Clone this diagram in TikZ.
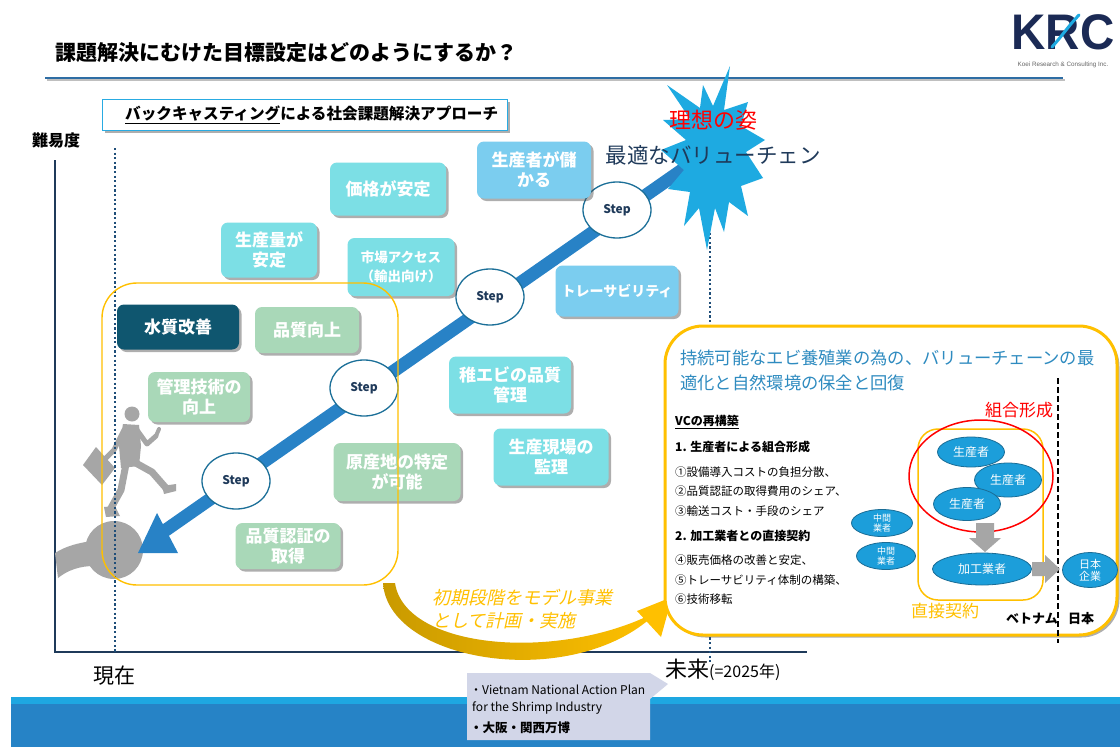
\documentclass[tikz,border=0pt]{standalone}
\usepackage{fontspec}
\setmainfont{Noto Sans CJK JP}
\newfontfamily\jpslant[FakeSlant=0.22]{Noto Sans CJK JP}
\newfontfamily\logofont{Liberation Sans}
\usetikzlibrary{shadows,shapes.geometric}
\newcommand\fsz[2]{\fontsize{#1}{#2}\selectfont}

\definecolor{cnavy}{HTML}{1F3A5A}
\definecolor{cdot}{HTML}{1F4E79}
\definecolor{carrow}{HTML}{2882C6}
\definecolor{cteal}{HTML}{7CDFE5}
\definecolor{csky}{HTML}{7BCDEF}
\definecolor{cgreen}{HTML}{A9D8B8}
\definecolor{cdark}{HTML}{0F566F}
\definecolor{cgold}{HTML}{FFC000}
\definecolor{cgolddark}{HTML}{C99A00}
\definecolor{cburst}{HTML}{1EAAE1}
\definecolor{cframe}{HTML}{29ABE2}
\definecolor{chead}{HTML}{2E8BC0}
\definecolor{cblob}{HTML}{1C9EDA}
\definecolor{cblobline}{HTML}{1A6D96}
\definecolor{cgrey}{HTML}{A6A6A6}
\definecolor{cband}{HTML}{2683C6}
\definecolor{cbandtop}{HTML}{1EA7E1}
\definecolor{ccallout}{HTML}{D2D6E8}
\definecolor{cstep}{HTML}{1B6F98}
\definecolor{ctitleline}{HTML}{2E6DA4}
\definecolor{clogo}{HTML}{1B2A55}

\tikzset{
  shadowed/.style={drop shadow={shadow xshift=2.5pt, shadow yshift=-2.5pt, opacity=0.45, fill=black!70}},
  tbox/.style={rounded corners=7pt, text=white, align=center, inner sep=0pt,
    font=\bfseries\fsz{17}{20}, shadowed},
  stepnode/.style={ellipse, draw=cstep, line width=1.3pt, fill=white, inner sep=0pt,
    minimum width=68pt, minimum height=56pt, font=\bfseries\fsz{12}{14}, text=cnavy},
  blob/.style={ellipse, draw=cblobline, line width=0.8pt, fill=cblob, text=white,
    inner sep=0pt, align=center},
  listline/.style={anchor=west, inner sep=0pt, font=\fsz{11.5}{13}},
  listhead/.style={anchor=west, inner sep=0pt, font=\bfseries\fsz{12}{14}},
}

\begin{document}
\begin{tikzpicture}[x=1pt, y=-1pt]
\useasboundingbox (0,0) rectangle (1120,747);
\fill[white] (0,0) rectangle (1120,747);

% ---------- header ----------
\node[anchor=west, inner sep=0pt, font=\bfseries\fsz{21}{24}] (title) at (55,53)
  {課題解決にむけた目標設定はどのようにするか？};
\draw[black!25, line width=2pt] (47,80) -- (1065,80);
\draw[ctitleline, line width=1.6pt] (45,78) -- (1063,78);

% logo
\node[inner sep=0pt, font=\logofont\bfseries\fsz{50}{50}, text=clogo, xscale=0.95] (krc) at (1063,32) {KRC};
\draw[cburst, line width=3pt, line cap=round] (1052,47) .. controls (1062,36) and (1070,24) .. (1079,15);
\node[inner sep=0pt, font=\logofont\fsz{6.3}{7}, text=black!60] (krcname) at (1063,65) {Koei Research \& Consulting Inc.};

% ---------- axes ----------
\node[inner sep=0pt, font=\bfseries\fsz{16}{18}] (yaxis) at (56,140) {難易度};
\coordinate (ytop) at (55,160);
\coordinate (origin) at (55,652);
\coordinate (xend) at (807,652);
\draw[cnavy, line width=1.4pt] (ytop) -- (origin) -- (xend);
\node[inner sep=0pt, font=\fsz{21}{24}] (now) at (114,676) {現在};
\node[anchor=west, inner sep=0pt] (future) at (665,670)
  {{\fsz{22}{24}未来}{\fsz{16}{18}(=2025年)}};

% bottom band
\fill[cbandtop] (11,697) rectangle (1120,705);
\fill[cband] (11,704) rectangle (1120,747);

% ---------- backcasting title box ----------
\node[draw=cframe, line width=1.5pt, fill=white, minimum width=405pt, minimum height=31pt,
  inner sep=0pt, shadowed] (bcbox) at (305,115) {};
\node[anchor=west, inner sep=0pt, font=\bfseries\fsz{15.6}{18}] (bctext) at (125,115)
  {\underline{バックキャスティング}による社会課題解決アプローチ};

% ---------- future marker ----------
\draw[cdot, line width=2.2pt, dash pattern=on 2.2pt off 2.4pt] (710,205) -- (710,662);

% ---------- runner on the ball ----------
\fill[cgrey] (55,553) .. controls (66,546) and (78,543) .. (92,541)
  -- (94,566) .. controls (80,566) and (68,570) .. (58,578) -- cycle;
\fill[cgrey] (114,550) circle (29);
\fill[cgrey] (132,414) circle (7.5);
\fill[cgrey] (123,424) -- (139,425) -- (141,446) -- (139,466) -- (121,468) -- (119,446) -- cycle;
\draw[cgrey, line width=5pt, line cap=round, line join=round] (137,430) -- (147,444) -- (156,436);
\draw[cgrey, line width=4pt, line cap=round] (156,436) -- (159,429);
\draw[cgrey, line width=5pt, line cap=round, line join=round] (124,430) -- (114,450) -- (106,458);
\fill[cgrey] (83,465) -- (96,447) -- (115,468) -- (102,485) -- cycle;
\draw[cgrey, line width=7pt, line cap=round, line join=round] (134,462) -- (152,472) -- (166,488);
\fill[cgrey] (162,486) -- (176,484) -- (176,491) -- (164,494) -- cycle;
\draw[cgrey, line width=7pt, line cap=round, line join=round] (126,464) -- (121,490) -- (111,508);
\fill[cgrey] (104,507) -- (115,506) -- (120,516) -- (106,517) -- cycle;
\draw[cdot, line width=2.2pt, dash pattern=on 2.2pt off 2.4pt] (115,148) -- (115,652);

% ---------- main diagonal arrow ----------
\coordinate (arrtop) at (692,163);
\coordinate (arrfoot) at (163,532);
\draw[carrow, line width=13pt] (arrtop) -- (arrfoot);
\fill[carrow] (138,553) -- (157,513) -- (178,553) -- cycle;

% starburst
\fill[cburst] (730,66) -- (724,110) -- (748,102) -- (741,126) -- (765,140) -- (746,152)
  -- (763,178) -- (741,186) -- (748,216) -- (729,202) -- (724,232) -- (715,208)
  -- (707,250) -- (699,208) -- (684,226) -- (690,192) -- (668,189) -- (684,170)
  -- (661,150) -- (686,140) -- (663,120) -- (690,119) -- (667,85) -- (700,108)
  -- (703,85) -- (713,106) -- cycle;
\node[inner sep=0pt, font=\fsz{22}{24}, text=red] (ideal) at (713,120) {理想の姿};
\node[inner sep=0pt, font=\fsz{21.5}{24}, text=cnavy] (bestvc) at (713,155) {最適なバリューチェン};

% steps
\node[stepnode] (step1) at (236,481) {Step};
\node[stepnode] (step2) at (364,388) {Step};
\node[stepnode] (step3) at (490,297) {Step};
\node[stepnode] (step4) at (617,210) {Step};

% ---------- issue boxes ----------
\node[tbox, fill=cteal, minimum width=116pt, minimum height=53pt] (price) at (388,189) {価格が安定};
\node[tbox, fill=cteal, minimum width=96pt, minimum height=55pt] (volume) at (269,250) {生産量が\\安定};
\node[tbox, fill=cteal, minimum width=107pt, minimum height=58pt, font=\bfseries\fsz{13.5}{19}] (market) at (401,267) {市場アクセス\\（輸出向け）};
\node[tbox, fill=csky, minimum width=114pt, minimum height=57pt] (profit) at (534,170) {生産者が儲\\かる};
\node[tbox, fill=csky, minimum width=123pt, minimum height=51pt, font=\bfseries\fsz{14}{16}] (trace) at (617,291) {トレーサビリティ};
\node[tbox, fill=cteal, minimum width=122pt, minimum height=57pt] (seed) at (510,385) {稚エビの品質\\管理};
\node[tbox, fill=cteal, minimum width=115pt, minimum height=57pt] (site) at (551,457) {生産現場の\\監理};
\node[tbox, fill=cgreen, minimum width=104pt, minimum height=46pt] (quality) at (307,330) {品質向上};
\node[tbox, fill=cgreen, minimum width=102pt, minimum height=50pt] (skill) at (199,397) {管理技術の\\向上};
\node[tbox, fill=cgreen, minimum width=127pt, minimum height=58pt] (origin2) at (397,472) {原産地の特定\\が可能};
\node[tbox, fill=cgreen, minimum width=105pt, minimum height=46pt] (cert) at (288,546) {品質認証の\\取得};
\node[tbox, fill=cdark, minimum width=122pt, minimum height=45pt] (water) at (178,327) {水質改善};

% first-stage frame
\draw[cgold, line width=1.4pt, rounded corners=35pt] (102,283) rectangle (398,585);

% ---------- curved transition arrow ----------
\shade[left color=cgolddark, right color=cgold]
  (383,583) .. controls (388,660) and (560,690) .. (646,622)
  -- (656,612) .. controls (560,662) and (405,650) .. (395,583) -- cycle;
\fill[cgold] (672,597) -- (637,611) -- (661,637) -- cycle;
\node[anchor=west, inner sep=0pt, align=left, text=cgold, font=\jpslant\fsz{18}{23}] (model) at (432,609)
  {初期段階をモデル事業\\として計画・実施};

% ---------- callout ----------
\fill[ccallout] (467,673) -- (650,673) -- (668,684) -- (650,699) -- (650,740) -- (467,740) -- cycle;
\node[anchor=west, inner sep=0pt, font=\fsz{12}{14}] (cal1) at (470,690) {・Vietnam National Action Plan};
\node[anchor=west, inner sep=0pt, font=\fsz{12}{14}] (cal2) at (472,708) {for the Shrimp Industry};
\node[anchor=west, inner sep=0pt, font=\bfseries\fsz{12.5}{14}] (cal3) at (470,728) {・大阪・関西万博};

% ---------- target frame ----------
\draw[cgold, line width=3pt, fill=white, rounded corners=38pt, shadowed] (665,326) rectangle (1117,635);
\node[listline, font=\fsz{17.3}{20}, text=chead] (goal1) at (680,358) {持続可能なエビ養殖業の為の、バリューチェーンの最};
\node[listline, font=\fsz{17.3}{20}, text=chead] (goal2) at (680,383) {適化と自然環境の保全と回復};

\node[listhead] (vc) at (675,422) {\underline{VCの再構築}};
\node[listhead] (h1) at (675,447) {1. 生産者による組合形成};
\node[listline] (l1) at (675,472) {①設備導入コストの負担分散、};
\node[listline] (l2) at (675,491) {②品質認証の取得費用のシェア、};
\node[listline] (l3) at (675,511) {③輸送コスト・手段のシェア};
\node[listhead] (h2) at (675,536) {2. 加工業者との直接契約};
\node[listline] (l4) at (675,560) {④販売価格の改善と安定、};
\node[listline] (l5) at (675,580) {⑤トレーサビリティ体制の構築、};
\node[listline] (l6) at (675,599) {⑥技術移転};

% value chain sketch
\draw[black, line width=1.2pt, dash pattern=on 6pt off 3pt] (1058,378) -- (1058,643);
\draw[cgold, line width=1.5pt, rounded corners=20pt] (918,429) rectangle (1043,600);
\draw[red, line width=1.5pt] (981,476) ellipse [x radius=72, y radius=56];
\node[inner sep=0pt, font=\fsz{17}{20}, text=red] (union) at (1019,410) {組合形成};
\node[inner sep=0pt, font=\fsz{17}{20}, text=cgold] (direct) at (945,611) {直接契約};
\node[inner sep=0pt, font=\bfseries\fsz{13}{15}] (vn) at (1032,619) {ベトナム};
\node[inner sep=0pt, font=\bfseries\fsz{13}{15}] (jp) at (1081,619) {日本};

\node[blob, minimum width=67pt, minimum height=30pt, font=\fsz{12}{14}] (p1) at (971,452) {生産者};
\node[blob, minimum width=67pt, minimum height=34pt, font=\fsz{12}{14}] (p2) at (1008,480) {生産者};
\node[blob, minimum width=67pt, minimum height=33pt, font=\fsz{12}{14}] (p3) at (967,504) {生産者};
\node[blob, minimum width=99pt, minimum height=32pt, font=\fsz{12}{14}] (proc) at (982,569) {加工業者};
\node[blob, minimum width=55pt, minimum height=35pt, font=\fsz{11}{12}] (jpco) at (1090,570) {日本\\企業};
\node[blob, minimum width=61pt, minimum height=27pt, font=\fsz{9}{10}] (mid1) at (882,523) {中間\\業者};
\node[blob, minimum width=59pt, minimum height=27pt, font=\fsz{9}{10}] (mid2) at (886,556) {中間\\業者};

% grey flow arrows
\fill[cgrey] (976,523) -- (994,523) -- (994,538) -- (1001,538) -- (985,552)
  -- (969,538) -- (976,538) -- cycle;
\fill[cgrey] (1032,562) -- (1045,562) -- (1045,555) -- (1060,569) -- (1045,583)
  -- (1045,576) -- (1032,576) -- cycle;
\end{tikzpicture}
\end{document}
